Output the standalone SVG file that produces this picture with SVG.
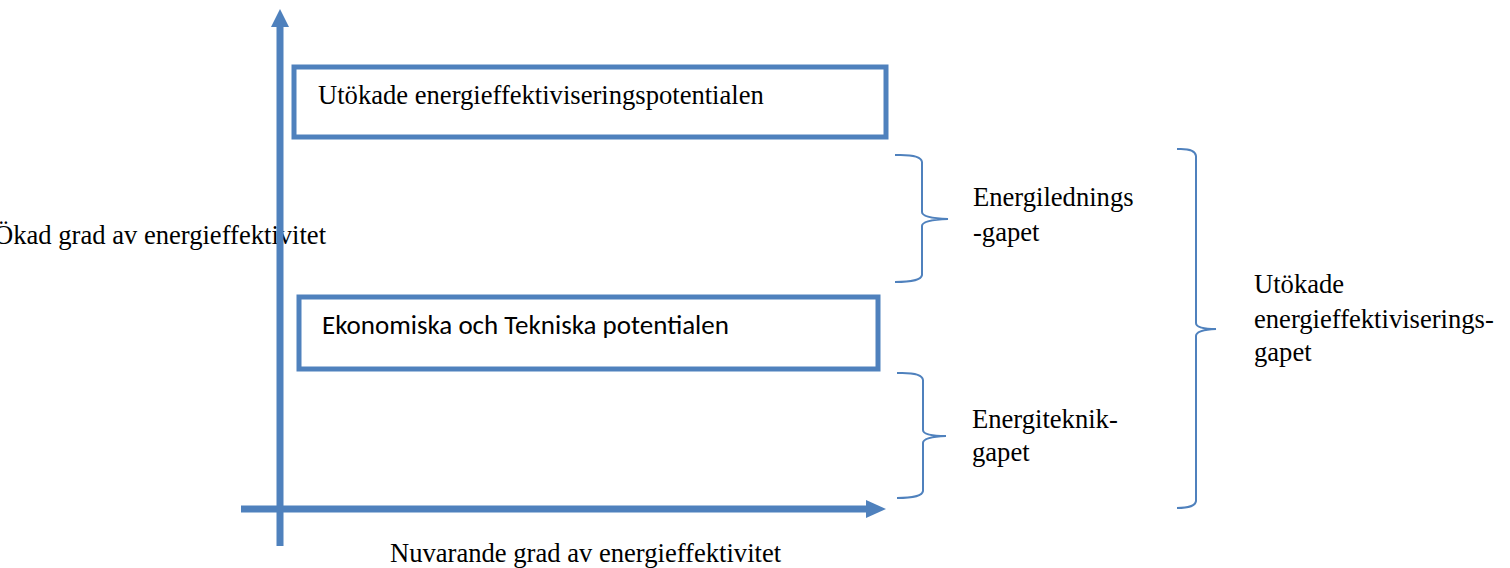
<svg xmlns="http://www.w3.org/2000/svg" width="1510" height="568" viewBox="0 0 1510 568">
<style>
.serif{font-family:"Liberation Serif","Times New Roman",serif;font-size:26.6px;fill:#000}
.sans{font-family:"Carlito","Liberation Sans",Arial,sans-serif;font-size:27px;fill:#000}
.box{fill:#fff;stroke:#4F81BD;stroke-width:5}
.axis{stroke:#4F81BD;stroke-width:7;fill:none}
.brace{stroke:#4F81BD;stroke-width:2;fill:none}
</style>
<rect width="1510" height="568" fill="#fff"/>
<g id="label-y">
<text class="serif" x="-6" y="244">Ökad grad av energieffektivitet</text>
</g>
<g id="label-x">
<text class="serif" x="390" y="562">Nuvarande grad av energieffektivitet</text>
</g>
<g id="connectors">
<line class="axis" x1="280" y1="546" x2="280" y2="26" />
<path d="M271,27 L280,9 L289,27 Z" fill="#4F81BD"/>
<line class="axis" x1="241" y1="509" x2="868" y2="509" />
<path d="M866,500 L886,509 L866,518 Z" fill="#4F81BD"/>
</g>
<g id="box-utokade">
<rect class="box" x="294" y="67" width="592" height="70"/>
<text class="serif" x="318" y="104">Utökade energieffektiviseringspotentialen</text>
</g>
<g id="box-ekonomiska">
<rect class="box" x="299" y="297" width="579" height="72"/>
<text class="sans" x="322" y="334">Ekonomiska och Tekniska potentialen</text>
</g>
<g id="brace-ledning">
<path class="brace" d="M895,155 Q921,154 922,162 L922,212 Q922,218 948,219 Q922,220 922,226 L922,275 Q921,282 895,282"/>
<text class="serif" x="973" y="206">Energilednings</text>
<text class="serif" x="973" y="241">-gapet</text>
</g>
<g id="brace-teknik">
<path class="brace" d="M897,373 Q922,372 923,380 L923,430 Q923,436 946,436 Q923,437 923,443 L923,491 Q922,498 897,498"/>
<text class="serif" x="972" y="428">Energiteknik-</text>
<text class="serif" x="972" y="461">gapet</text>
</g>
<g id="brace-utokade">
<path class="brace" d="M1177,149 Q1195,148 1196,156 L1196,323 Q1196,329 1216,329 Q1196,330 1196,336 L1196,501 Q1195,508 1177,508"/>
<text class="serif" x="1254" y="293">Utökade</text>
<text class="serif" x="1254" y="328">energieffektiviserings-</text>
<text class="serif" x="1254" y="361">gapet</text>
</g>
</svg>
